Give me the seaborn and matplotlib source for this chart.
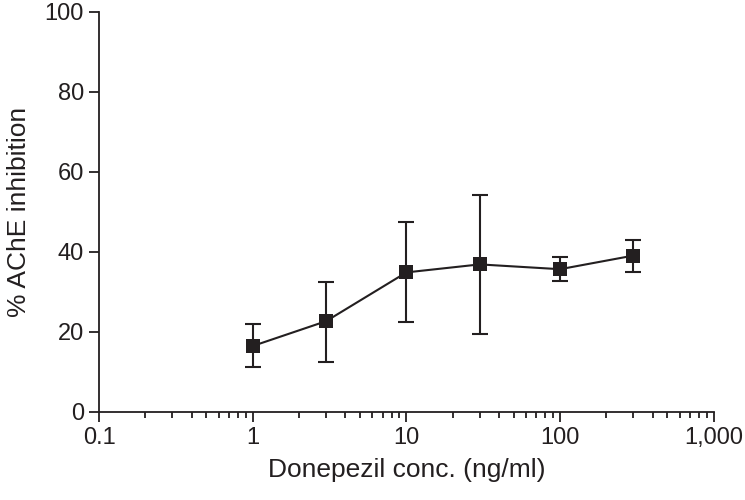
"""
Donepezil dose-response: % AChE inhibition vs concentration (log scale).
"""
import pandas as pd
import numpy as np
import matplotlib
matplotlib.use("Agg")
import matplotlib.pyplot as plt
import matplotlib.ticker as mticker
import seaborn as sns

# data
conc = [1, 3, 10, 30, 100, 300]
inhibition = [16.5, 22.7, 34.9, 36.9, 35.7, 39.1]
err_upper = [21.9, 32.5, 47.5, 54.2, 38.7, 43.0]
err_lower = [11.3, 12.4, 22.4, 19.4, 32.8, 35.0]

x_ticks = [0.1, 1, 10, 100, 1000]
x_tick_labels = ["0.1", "1", "10", "100", "1,000"]
y_ticks = [0, 20, 40, 60, 80, 100]

INK = "#231f20"

sns.set_theme(style="ticks")
plt.rcParams["font.family"] = ["Liberation Sans", "DejaVu Sans"]

df = pd.DataFrame({"conc": conc, "inhibition": inhibition,
                   "upper": err_upper, "lower": err_lower})

fig = plt.figure(figsize=(7.45, 5), dpi=100)
ax = fig.add_axes([0.133, 0.176, 0.825, 0.8])

yerr = np.array([df["inhibition"] - df["lower"], df["upper"] - df["inhibition"]])
ax.errorbar(df["conc"], df["inhibition"], yerr=yerr, fmt="none",
            ecolor=INK, elinewidth=1.5, capsize=6, capthick=1.5, zorder=2)
sns.lineplot(data=df, x="conc", y="inhibition", ax=ax, color=INK,
             linewidth=1.5, marker="s", markersize=10, markeredgewidth=0,
             zorder=3)

ax.set_xscale("log")
ax.set_xlim(0.1, 1000)
ax.set_ylim(0, 100)
ax.set_xticks(x_ticks)
ax.xaxis.set_major_formatter(mticker.FixedFormatter(x_tick_labels))
ax.xaxis.set_minor_locator(mticker.LogLocator(base=10, subs=np.arange(2, 10)))
ax.xaxis.set_minor_formatter(mticker.NullFormatter())
ax.set_yticks(y_ticks)

sns.despine(ax=ax)
for side in ["left", "bottom"]:
    ax.spines[side].set_color(INK)
    ax.spines[side].set_linewidth(1.3)

ax.tick_params(axis="both", which="major", length=7, width=1.3,
               color=INK, labelcolor=INK, labelsize=17, pad=4)
ax.tick_params(axis="x", which="minor", length=4.5, width=1.3, color=INK)

ax.set_xlabel("Donepezil conc. (ng/ml)", fontsize=19, color=INK, labelpad=6)
ax.set_ylabel("% AChE inhibition", fontsize=19, color=INK, labelpad=10)

plt.savefig("out.png", dpi=100)
plt.close()
